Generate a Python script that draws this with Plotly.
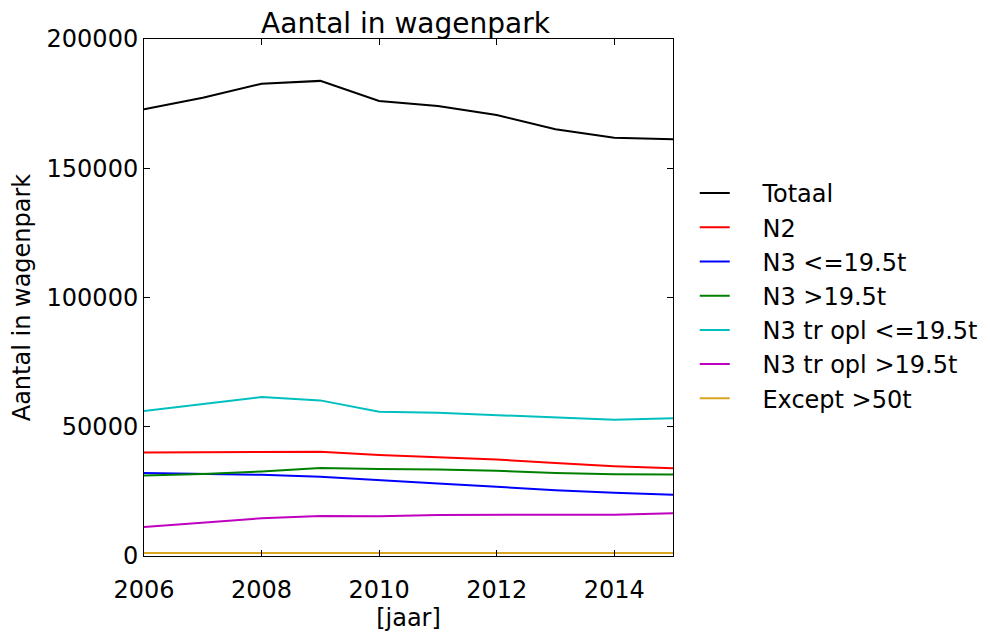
import plotly.graph_objects as go

years = [2006, 2007, 2008, 2009, 2010, 2011, 2012, 2013, 2014, 2015]
totaal = [172800, 177300, 182700, 183800, 176000, 174100, 170600, 165100, 161800, 161200]
n2 = [40000, 40100, 40400, 40300, 39100, 38200, 37300, 36000, 34700, 33900]
n3_le = [32100, 31700, 31400, 30700, 29300, 28000, 26800, 25400, 24500, 23700]
n3_gt = [31100, 31700, 32700, 34000, 33700, 33500, 33000, 32100, 31600, 31500]
n3tr_le = [56100, 58700, 61500, 60200, 55800, 55400, 54500, 53400, 52700, 53300]
n3tr_gt = [11200, 12900, 14600, 15500, 15400, 15900, 16000, 16000, 16000, 16500]
except50 = [1200, 1200, 1300, 1400, 1400, 1300, 1300, 1200, 1200, 1200]

series = [
    ("Totaal", totaal, "#000000"),
    ("N2", n2, "#ff0000"),
    ("N3 <=19.5t", n3_le, "#0000ff"),
    ("N3 >19.5t", n3_gt, "#008000"),
    ("N3 tr opl <=19.5t", n3tr_le, "#00bfbf"),
    ("N3 tr opl >19.5t", n3tr_gt, "#bf00bf"),
    ("Except >50t", except50, "#daa520"),
]

fig = go.Figure()
for name, vals, col in series:
    fig.add_trace(go.Scatter(x=years, y=vals, mode="lines",
                             name="\u00a0\u00a0\u00a0\u2009" + name,
                             line=dict(color=col, width=2)))

font = "DejaVu Sans, sans-serif"
L, T, PW, PH = 130, 31, 535, 517
fig.update_layout(
    width=990, height=634,
    margin=dict(l=L, r=990 - L - PW, t=T, b=634 - T - PH),
    paper_bgcolor="white", plot_bgcolor="white",
    font=dict(family=font, size=24, color="black"),
    title=dict(text="Aantal in wagenpark", x=(L + PW / 2) / 990, xanchor="center",
               y=1 - 15 / 634, yanchor="middle", font=dict(size=28)),
    showlegend=True,
    legend=dict(x=(695 - 8 - L) / PW, xanchor="left",
                y=(555 - 295) / PH, yanchor="middle",
                font=dict(size=24), bgcolor="rgba(0,0,0,0)"),
    xaxis=dict(range=[2006, 2015], tickvals=[2006, 2008, 2010, 2012, 2014],
               ticks="inside", ticklen=6, tickcolor="black", showline=True,
               linecolor="black", linewidth=1, mirror="ticks", showgrid=False,
               zeroline=False, tickfont=dict(size=24), ticklabelstandoff=12,
               title=dict(text="[jaar]", font=dict(size=24), standoff=6)),
    yaxis=dict(range=[0, 200000], tickvals=[0, 50000, 100000, 150000, 200000],
               tickformat="d",
               ticks="inside", ticklen=6, tickcolor="black", showline=True,
               linecolor="black", linewidth=1, mirror="ticks", showgrid=False,
               zeroline=False, tickfont=dict(size=24),
               title=dict(text="Aantal in wagenpark", font=dict(size=24), standoff=10)),
)

fig.write_html("out.html")
